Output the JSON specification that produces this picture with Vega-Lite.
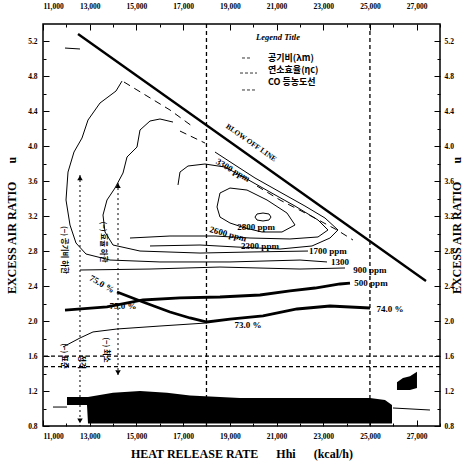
{
  "$schema": "https://vega.github.io/schema/vega-lite/v6.json",
  "width": 397,
  "height": 402,
  "autosize": {"type": "none"},
  "padding": {"left": 43, "top": 24, "right": 36, "bottom": 45},
  "background": "white",
  "config": {
    "view": {"stroke": "black", "strokeWidth": 1.5},
    "axis": {"domain": false, "grid": false, "labelFont": "Liberation Serif", "labelFontWeight": "bold", "labelFontSize": 7.5, "labelColor": "black", "tickColor": "black", "tickWidth": 1, "titleFont": "Liberation Serif", "titleFontWeight": "bold", "titleFontSize": 12, "titleColor": "black"},
    "text": {"font": "Liberation Serif", "fontWeight": "bold", "color": "black"}
  },
  "datasets": {
    "blow": [{"x": 12500, "y": 5.285}, {"x": 27400, "y": 2.459}],
    "thin": [
      {"id": "L1", "o": 1, "x": 14383, "y": 4.747}, {"id": "L1", "o": 2, "x": 14126, "y": 4.633}, {"id": "L1", "o": 3, "x": 13441, "y": 4.496}, {"id": "L1", "o": 4, "x": 12927, "y": 4.301}, {"id": "L1", "o": 5, "x": 12670, "y": 4.095}, {"id": "L1", "o": 6, "x": 12327, "y": 3.935}, {"id": "L1", "o": 7, "x": 12071, "y": 3.706}, {"id": "L1", "o": 8, "x": 11985, "y": 3.386}, {"id": "L1", "o": 9, "x": 12156, "y": 3.1}, {"id": "L1", "o": 10, "x": 12413, "y": 2.894}, {"id": "L1", "o": 11, "x": 12841, "y": 2.768}, {"id": "L1", "o": 12, "x": 13869, "y": 2.699}, {"id": "L1", "o": 13, "x": 16010, "y": 2.677}, {"id": "L1", "o": 14, "x": 19007, "y": 2.677}, {"id": "L1", "o": 15, "x": 22005, "y": 2.699}, {"id": "L1", "o": 16, "x": 23161, "y": 2.677},
      {"id": "L2", "o": 1, "x": 16567, "y": 4.278}, {"id": "L2", "o": 2, "x": 16010, "y": 4.313}, {"id": "L2", "o": 3, "x": 15582, "y": 4.29}, {"id": "L2", "o": 4, "x": 15154, "y": 4.187}, {"id": "L2", "o": 5, "x": 15025, "y": 3.992}, {"id": "L2", "o": 6, "x": 14597, "y": 3.878}, {"id": "L2", "o": 7, "x": 14426, "y": 3.695}, {"id": "L2", "o": 8, "x": 14083, "y": 3.523}, {"id": "L2", "o": 9, "x": 13740, "y": 3.386}, {"id": "L2", "o": 10, "x": 13569, "y": 3.214}, {"id": "L2", "o": 11, "x": 13655, "y": 3.02}, {"id": "L2", "o": 12, "x": 13997, "y": 2.871}, {"id": "L2", "o": 13, "x": 15154, "y": 2.802}, {"id": "L2", "o": 14, "x": 17723, "y": 2.779}, {"id": "L2", "o": 15, "x": 19864, "y": 2.791}, {"id": "L2", "o": 16, "x": 22347, "y": 2.802},
      {"id": "L3", "o": 1, "x": 12584, "y": 2.585}, {"id": "L3", "o": 2, "x": 15582, "y": 2.596}, {"id": "L3", "o": 3, "x": 18579, "y": 2.619}, {"id": "L3", "o": 4, "x": 22005, "y": 2.596}, {"id": "L3", "o": 5, "x": 23932, "y": 2.608},
      {"id": "E", "o": 1, "x": 20078, "y": 3.191}, {"id": "E", "o": 2, "x": 20164, "y": 3.226}, {"id": "E", "o": 3, "x": 20421, "y": 3.237}, {"id": "E", "o": 4, "x": 20677, "y": 3.226}, {"id": "E", "o": 5, "x": 20763, "y": 3.191}, {"id": "E", "o": 6, "x": 20677, "y": 3.157}, {"id": "E", "o": 7, "x": 20421, "y": 3.146}, {"id": "E", "o": 8, "x": 20164, "y": 3.157}, {"id": "E", "o": 9, "x": 20078, "y": 3.191},
      {"id": "I2", "o": 1, "x": 18451, "y": 3.306}, {"id": "I2", "o": 2, "x": 18579, "y": 3.466}, {"id": "I2", "o": 3, "x": 19007, "y": 3.523}, {"id": "I2", "o": 4, "x": 19735, "y": 3.5}, {"id": "I2", "o": 5, "x": 20592, "y": 3.386}, {"id": "I2", "o": 6, "x": 21448, "y": 3.237}, {"id": "I2", "o": 7, "x": 21791, "y": 3.1}, {"id": "I2", "o": 8, "x": 21234, "y": 3.02}, {"id": "I2", "o": 9, "x": 20378, "y": 3.02}, {"id": "I2", "o": 10, "x": 19650, "y": 3.066}, {"id": "I2", "o": 11, "x": 19007, "y": 3.123}, {"id": "I2", "o": 12, "x": 18579, "y": 3.191}, {"id": "I2", "o": 13, "x": 18451, "y": 3.306},
      {"id": "I3", "o": 1, "x": 16781, "y": 3.558}, {"id": "I3", "o": 2, "x": 16866, "y": 3.706}, {"id": "I3", "o": 3, "x": 17209, "y": 3.775}, {"id": "I3", "o": 4, "x": 17937, "y": 3.798}, {"id": "I3", "o": 5, "x": 18793, "y": 3.763}, {"id": "I3", "o": 6, "x": 19650, "y": 3.638}, {"id": "I3", "o": 7, "x": 20720, "y": 3.477}, {"id": "I3", "o": 8, "x": 21791, "y": 3.317}, {"id": "I3", "o": 9, "x": 22776, "y": 3.157}, {"id": "I3", "o": 10, "x": 23204, "y": 3.043}, {"id": "I3", "o": 11, "x": 22776, "y": 2.963}, {"id": "I3", "o": 12, "x": 21576, "y": 2.94}, {"id": "I3", "o": 13, "x": 19864, "y": 2.951}, {"id": "I3", "o": 14, "x": 18365, "y": 2.974}, {"id": "I3", "o": 15, "x": 16438, "y": 2.974}, {"id": "I3", "o": 16, "x": 14725, "y": 2.951},
      {"id": "I4", "o": 1, "x": 15582, "y": 2.86}, {"id": "I4", "o": 2, "x": 17723, "y": 2.871}, {"id": "I4", "o": 3, "x": 19307, "y": 2.848}, {"id": "I4", "o": 4, "x": 21149, "y": 2.825}, {"id": "I4", "o": 5, "x": 22519, "y": 2.86}, {"id": "I4", "o": 6, "x": 23289, "y": 2.951}, {"id": "I4", "o": 7, "x": 23632, "y": 3.043}, {"id": "I4", "o": 8, "x": 23075, "y": 3.18}, {"id": "I4", "o": 9, "x": 22219, "y": 3.317}, {"id": "I4", "o": 10, "x": 21149, "y": 3.477}, {"id": "I4", "o": 11, "x": 20078, "y": 3.638}, {"id": "I4", "o": 12, "x": 19222, "y": 3.786}, {"id": "I4", "o": 13, "x": 18365, "y": 3.935},
      {"id": "T3", "o": 1, "x": 11856, "y": 1.704}, {"id": "T3", "o": 2, "x": 12584, "y": 1.807}, {"id": "T3", "o": 3, "x": 13141, "y": 1.876}, {"id": "T3", "o": 4, "x": 14169, "y": 1.91}, {"id": "T3", "o": 5, "x": 16010, "y": 1.944}, {"id": "T3", "o": 6, "x": 18022, "y": 1.979},
      {"id": "S", "o": 1, "x": 11942, "y": 5.125}, {"id": "S", "o": 2, "x": 12584, "y": 5.114},
      {"id": "B1", "o": 1, "x": 11428, "y": 1.017}, {"id": "B1", "o": 2, "x": 12028, "y": 1.017},
      {"id": "B2", "o": 1, "x": 25987, "y": 1.006}, {"id": "B2", "o": 2, "x": 27571, "y": 0.983}
    ],
    "thick": [
      {"id": "T1", "o": 1, "x": 11942, "y": 2.127}, {"id": "T1", "o": 2, "x": 13740, "y": 2.162}, {"id": "T1", "o": 3, "x": 15282, "y": 2.242}, {"id": "T1", "o": 4, "x": 16866, "y": 2.265}, {"id": "T1", "o": 5, "x": 18579, "y": 2.276}, {"id": "T1", "o": 6, "x": 20292, "y": 2.299}, {"id": "T1", "o": 7, "x": 21576, "y": 2.345}, {"id": "T1", "o": 8, "x": 22647, "y": 2.379}, {"id": "T1", "o": 9, "x": 23718, "y": 2.425}, {"id": "T1", "o": 10, "x": 24146, "y": 2.436},
      {"id": "T2", "o": 1, "x": 14169, "y": 2.333}, {"id": "T2", "o": 2, "x": 15282, "y": 2.219}, {"id": "T2", "o": 3, "x": 16438, "y": 2.104}, {"id": "T2", "o": 4, "x": 17295, "y": 2.036}, {"id": "T2", "o": 5, "x": 18022, "y": 1.99}, {"id": "T2", "o": 6, "x": 19007, "y": 2.024}, {"id": "T2", "o": 7, "x": 20421, "y": 2.059}, {"id": "T2", "o": 8, "x": 21876, "y": 2.139}, {"id": "T2", "o": 9, "x": 23289, "y": 2.173}, {"id": "T2", "o": 10, "x": 25002, "y": 2.15}
    ],
    "dashed": [
      {"id": "L1d", "o": 1, "x": 14468, "y": 4.736}, {"id": "L1d", "o": 2, "x": 15453, "y": 4.576}, {"id": "L1d", "o": 3, "x": 16438, "y": 4.416}, {"id": "L1d", "o": 4, "x": 17380, "y": 4.232},
      {"id": "D1a", "o": 1, "x": 16866, "y": 4.175}, {"id": "D1a", "o": 2, "x": 17937, "y": 4.038},
      {"id": "D1b", "o": 1, "x": 20164, "y": 3.546}, {"id": "D1b", "o": 2, "x": 21149, "y": 3.386}, {"id": "D1b", "o": 3, "x": 22561, "y": 3.191}, {"id": "D1b", "o": 4, "x": 23589, "y": 3.043}, {"id": "D1b", "o": 5, "x": 24274, "y": 2.928}
    ],
    "dotted": [
      {"id": "V1", "o": 1, "x": 12584, "y": 3.672}, {"id": "V1", "o": 2, "x": 12584, "y": 0.8},
      {"id": "V2", "o": 1, "x": 14212, "y": 3.58}, {"id": "V2", "o": 2, "x": 14212, "y": 1.384}
    ],
    "heads": [
      {"dir": "up", "x": 12584, "y": 3.64}, {"dir": "up", "x": 14212, "y": 3.55},
      {"dir": "down", "x": 12584, "y": 0.86}, {"dir": "down", "x": 14212, "y": 1.41}
    ],
    "blob": [
      {"id": "main", "x": 12028, "y": 1.132, "y2": 1.04}, {"id": "main", "x": 12884, "y": 1.132, "y2": 1.04}, {"id": "main", "x": 12927, "y": 1.132, "y2": 0.83}, {"id": "main", "x": 13997, "y": 1.18, "y2": 0.83}, {"id": "main", "x": 15154, "y": 1.2, "y2": 0.83}, {"id": "main", "x": 16310, "y": 1.18, "y2": 0.83}, {"id": "main", "x": 17295, "y": 1.15, "y2": 0.83}, {"id": "main", "x": 19436, "y": 1.12, "y2": 0.83}, {"id": "main", "x": 22005, "y": 1.12, "y2": 0.83}, {"id": "main", "x": 25002, "y": 1.12, "y2": 0.83}, {"id": "main", "x": 25644, "y": 1.097, "y2": 0.83}, {"id": "main", "x": 25944, "y": 1.04, "y2": 0.83},
      {"id": "hat", "x": 26158, "y": 1.3, "y2": 1.212}, {"id": "hat", "x": 26415, "y": 1.35, "y2": 1.212}, {"id": "hat", "x": 26715, "y": 1.37, "y2": 1.212}, {"id": "hat", "x": 27014, "y": 1.42, "y2": 1.235}
    ],
    "legendSamples": [
      {"id": "a", "o": 1, "x": 19521, "y": 5.011}, {"id": "a", "o": 2, "x": 19864, "y": 5.011},
      {"id": "b", "o": 1, "x": 19436, "y": 4.839}, {"id": "b", "o": 2, "x": 20164, "y": 4.839},
      {"id": "c", "o": 1, "x": 19521, "y": 4.645}, {"id": "c", "o": 2, "x": 20078, "y": 4.645}
    ]
  },
  "layer": [
    {
      "data": {"name": "blow"},
      "mark": {"type": "line", "color": "black", "strokeWidth": 2.4, "clip": true},
      "encoding": {
        "x": {"field": "x", "type": "quantitative", "scale": {"domain": [11000, 28000], "nice": false, "zero": false},
          "axis": {"orient": "bottom", "values": [11000, 12000, 13000, 14000, 15000, 16000, 17000, 18000, 19000, 20000, 21000, 22000, 23000, 24000, 25000, 26000, 27000, 28000], "labelExpr": "datum.value % 2000 == 1000 ? format(datum.value, ',') : ''", "tickSize": {"condition": {"test": "datum.value % 2000 == 1000", "value": -6}, "value": -3}, "labelPadding": 12, "title": "HEAT RELEASE RATE\u00a0\u00a0\u00a0\u00a0\u00a0\u00a0Hhi\u00a0\u00a0\u00a0\u00a0\u00a0\u00a0(kcal/h)", "titlePadding": 9}},
        "y": {"field": "y", "type": "quantitative", "scale": {"domain": [0.8, 5.4], "nice": false, "zero": false},
          "axis": {"orient": "left", "values": [0.8, 1.0, 1.2, 1.4, 1.6, 1.8, 2.0, 2.2, 2.4, 2.6, 2.8, 3.0, 3.2, 3.4, 3.6, 3.8, 4.0, 4.2, 4.4, 4.6, 4.8, 5.0, 5.2], "labelExpr": "round(datum.value*10) % 4 == 0 ? format(datum.value, '.1f') : ''", "tickSize": {"condition": {"test": "round(datum.value*10) % 4 == 0", "value": -6}, "value": -3}, "labelPadding": 12, "title": "EXCESS AIR RATIO\u00a0\u00a0\u00a0\u00a0\u00a0\u00a0u", "titlePadding": 9}}
      }
    },
    {
      "data": {"name": "thick"},
      "mark": {"type": "line", "color": "black", "strokeWidth": 2.8, "clip": true},
      "encoding": {
        "x": {"field": "x", "type": "quantitative", "scale": {"domain": [11000, 28000], "nice": false, "zero": false},
          "axis": {"orient": "top", "values": [11000, 12000, 13000, 14000, 15000, 16000, 17000, 18000, 19000, 20000, 21000, 22000, 23000, 24000, 25000, 26000, 27000, 28000], "labelExpr": "datum.value % 2000 == 1000 ? format(datum.value, ',') : ''", "tickSize": {"condition": {"test": "datum.value % 2000 == 1000", "value": -6}, "value": -3}, "labelPadding": 20, "title": null}},
        "y": {"field": "y", "type": "quantitative", "scale": {"domain": [0.8, 5.4], "nice": false, "zero": false},
          "axis": {"orient": "right", "values": [0.8, 1.0, 1.2, 1.4, 1.6, 1.8, 2.0, 2.2, 2.4, 2.6, 2.8, 3.0, 3.2, 3.4, 3.6, 3.8, 4.0, 4.2, 4.4, 4.6, 4.8, 5.0, 5.2], "labelExpr": "round(datum.value*10) % 4 == 0 ? format(datum.value, '.1f') : ''", "tickSize": {"condition": {"test": "round(datum.value*10) % 4 == 0", "value": -6}, "value": -3}, "labelPadding": 10, "title": "EXCESS AIR RATIO\u00a0\u00a0\u00a0\u00a0\u00a0\u00a0u", "titleAngle": 270, "titlePadding": 10}},
        "detail": {"field": "id"},
        "order": {"field": "o"}
      }
    },
    {
      "data": {"name": "thin"},
      "mark": {"type": "line", "color": "black", "strokeWidth": 1, "clip": true},
      "encoding": {
        "x": {"field": "x", "type": "quantitative", "scale": {"domain": [11000, 28000], "nice": false, "zero": false}, "axis": null},
        "y": {"field": "y", "type": "quantitative", "scale": {"domain": [0.8, 5.4], "nice": false, "zero": false}, "axis": null},
        "detail": {"field": "id"},
        "order": {"field": "o"}
      }
    },
    {
      "data": {"name": "dashed"},
      "mark": {"type": "line", "color": "black", "strokeWidth": 1, "strokeDash": [7, 5], "clip": true},
      "encoding": {
        "x": {"field": "x", "type": "quantitative", "scale": {"domain": [11000, 28000], "nice": false, "zero": false}, "axis": null},
        "y": {"field": "y", "type": "quantitative", "scale": {"domain": [0.8, 5.4], "nice": false, "zero": false}, "axis": null},
        "detail": {"field": "id"},
        "order": {"field": "o"}
      }
    },
    {
      "data": {"name": "dotted"},
      "mark": {"type": "line", "color": "black", "strokeWidth": 1, "strokeDash": [2, 3], "clip": true},
      "encoding": {
        "x": {"field": "x", "type": "quantitative", "scale": {"domain": [11000, 28000], "nice": false, "zero": false}, "axis": null},
        "y": {"field": "y", "type": "quantitative", "scale": {"domain": [0.8, 5.4], "nice": false, "zero": false}, "axis": null},
        "detail": {"field": "id"},
        "order": {"field": "o"}
      }
    },
    {
      "data": {"name": "heads"},
      "mark": {"type": "point", "filled": true, "color": "black", "size": 30, "opacity": 1},
      "encoding": {
        "x": {"field": "x", "type": "quantitative", "scale": {"domain": [11000, 28000], "nice": false, "zero": false}, "axis": null},
        "y": {"field": "y", "type": "quantitative", "scale": {"domain": [0.8, 5.4], "nice": false, "zero": false}, "axis": null},
        "shape": {"field": "dir", "type": "nominal", "scale": {"domain": ["up", "down"], "range": ["triangle-up", "triangle-down"]}, "legend": null}
      }
    },
    {
      "data": {"values": [{"x": 18000}, {"x": 25000}]},
      "mark": {"type": "rule", "color": "black", "strokeWidth": 1.3, "strokeDash": [4, 3]},
      "encoding": {
        "x": {"field": "x", "type": "quantitative", "scale": {"domain": [11000, 28000], "nice": false, "zero": false}, "axis": null}
      }
    },
    {
      "data": {"values": [{"y": 1.6}, {"y": 1.48}]},
      "mark": {"type": "rule", "color": "black", "strokeWidth": 1.3, "strokeDash": [4, 3]},
      "encoding": {
        "y": {"field": "y", "type": "quantitative", "scale": {"domain": [0.8, 5.4], "nice": false, "zero": false}, "axis": null}
      }
    },
    {
      "data": {"name": "blob"},
      "mark": {"type": "area", "color": "black", "opacity": 1, "clip": true},
      "encoding": {
        "x": {"field": "x", "type": "quantitative", "scale": {"domain": [11000, 28000], "nice": false, "zero": false}, "axis": null},
        "y": {"field": "y", "type": "quantitative", "scale": {"domain": [0.8, 5.4], "nice": false, "zero": false}, "axis": null},
        "y2": {"field": "y2"},
        "detail": {"field": "id"}
      }
    },
    {
      "data": {"name": "legendSamples"},
      "mark": {"type": "line", "color": "black", "strokeWidth": 0.8, "strokeDash": [3, 2]},
      "encoding": {
        "x": {"field": "x", "type": "quantitative", "scale": {"domain": [11000, 28000], "nice": false, "zero": false}, "axis": null},
        "y": {"field": "y", "type": "quantitative", "scale": {"domain": [0.8, 5.4], "nice": false, "zero": false}, "axis": null},
        "detail": {"field": "id"},
        "order": {"field": "o"}
      }
    },
    {
      "data": {"values": [
        {"t": "2800 ppm", "x": 20121, "y": 3.077}, {"t": "2300 ppm", "x": 20292, "y": 2.86}, {"t": "1700 ppm", "x": 23200, "y": 2.8}, {"t": "1300", "x": 23720, "y": 2.675}, {"t": "900 ppm", "x": 25000, "y": 2.59}, {"t": "500 ppm", "x": 25045, "y": 2.436}, {"t": "74.0 %", "x": 25859, "y": 2.139}, {"t": "75.0 %", "x": 14426, "y": 2.173}, {"t": "73.0 %", "x": 19778, "y": 1.956}
      ]},
      "mark": {"type": "text", "fontSize": 9, "fontWeight": "bold", "align": "center", "baseline": "middle"},
      "encoding": {
        "x": {"field": "x", "type": "quantitative", "scale": {"domain": [11000, 28000], "nice": false, "zero": false}, "axis": null},
        "y": {"field": "y", "type": "quantitative", "scale": {"domain": [0.8, 5.4], "nice": false, "zero": false}, "axis": null},
        "text": {"field": "t"}
      }
    },
    {
      "data": {"values": [{"t": "2600 ppm", "x": 18922, "y": 2.997}]},
      "mark": {"type": "text", "fontSize": 9, "fontWeight": "bold", "align": "center", "baseline": "middle", "angle": 15},
      "encoding": {
        "x": {"field": "x", "type": "quantitative", "scale": {"domain": [11000, 28000], "nice": false, "zero": false}, "axis": null},
        "y": {"field": "y", "type": "quantitative", "scale": {"domain": [0.8, 5.4], "nice": false, "zero": false}, "axis": null},
        "text": {"field": "t"}
      }
    },
    {
      "data": {"values": [{"t": "3300 ppm", "x": 19136, "y": 3.729}, {"t": "75.0 %", "x": 13526, "y": 2.425}]},
      "mark": {"type": "text", "fontSize": 9, "fontWeight": "bold", "align": "center", "baseline": "middle", "angle": 30},
      "encoding": {
        "x": {"field": "x", "type": "quantitative", "scale": {"domain": [11000, 28000], "nice": false, "zero": false}, "axis": null},
        "y": {"field": "y", "type": "quantitative", "scale": {"domain": [0.8, 5.4], "nice": false, "zero": false}, "axis": null},
        "text": {"field": "t"}
      }
    },
    {
      "data": {"values": [{"t": "BLOW OFF LINE", "x": 19907, "y": 4.038}]},
      "mark": {"type": "text", "fontSize": 7.5, "fontWeight": "bold", "align": "center", "baseline": "middle", "angle": 35},
      "encoding": {
        "x": {"field": "x", "type": "quantitative", "scale": {"domain": [11000, 28000], "nice": false, "zero": false}, "axis": null},
        "y": {"field": "y", "type": "quantitative", "scale": {"domain": [0.8, 5.4], "nice": false, "zero": false}, "axis": null},
        "text": {"field": "t"}
      }
    },
    {
      "data": {"values": [{"t": "Legend Title", "x": 21063, "y": 5.251}]},
      "mark": {"type": "text", "fontSize": 8.5, "fontWeight": "bold", "fontStyle": "italic", "align": "center", "baseline": "middle"},
      "encoding": {
        "x": {"field": "x", "type": "quantitative", "scale": {"domain": [11000, 28000], "nice": false, "zero": false}, "axis": null},
        "y": {"field": "y", "type": "quantitative", "scale": {"domain": [0.8, 5.4], "nice": false, "zero": false}, "axis": null},
        "text": {"field": "t"}
      }
    },
    {
      "data": {"values": [{"t": "공기비(λm)", "x": 20635, "y": 5.011}, {"t": "연소효율(ηc)", "x": 20635, "y": 4.873}, {"t": "CO 등농도선", "x": 20635, "y": 4.736}]},
      "mark": {"type": "text", "font": "Noto Sans CJK KR", "fontSize": 9, "fontWeight": "bold", "align": "left", "baseline": "middle"},
      "encoding": {
        "x": {"field": "x", "type": "quantitative", "scale": {"domain": [11000, 28000], "nice": false, "zero": false}, "axis": null},
        "y": {"field": "y", "type": "quantitative", "scale": {"domain": [0.8, 5.4], "nice": false, "zero": false}, "axis": null},
        "text": {"field": "t"}
      }
    },
    {
      "data": {"values": [{"t": "(−) 공기비 하한", "x": 11899, "y": 2.814}, {"t": "(−) 효율 하한", "x": 13569, "y": 2.905}, {"t": "(−) 표준", "x": 11899, "y": 1.601}, {"t": "정격", "x": 12627, "y": 1.532}, {"t": "(−) 최소", "x": 13698, "y": 1.67}]},
      "mark": {"type": "text", "font": "Noto Sans CJK KR", "fontSize": 7.5, "fontWeight": "bold", "align": "center", "baseline": "middle", "angle": 90},
      "encoding": {
        "x": {"field": "x", "type": "quantitative", "scale": {"domain": [11000, 28000], "nice": false, "zero": false}, "axis": null},
        "y": {"field": "y", "type": "quantitative", "scale": {"domain": [0.8, 5.4], "nice": false, "zero": false}, "axis": null},
        "text": {"field": "t"}
      }
    }
  ],
  "resolve": {"axis": {"x": "independent", "y": "independent"}}
}
